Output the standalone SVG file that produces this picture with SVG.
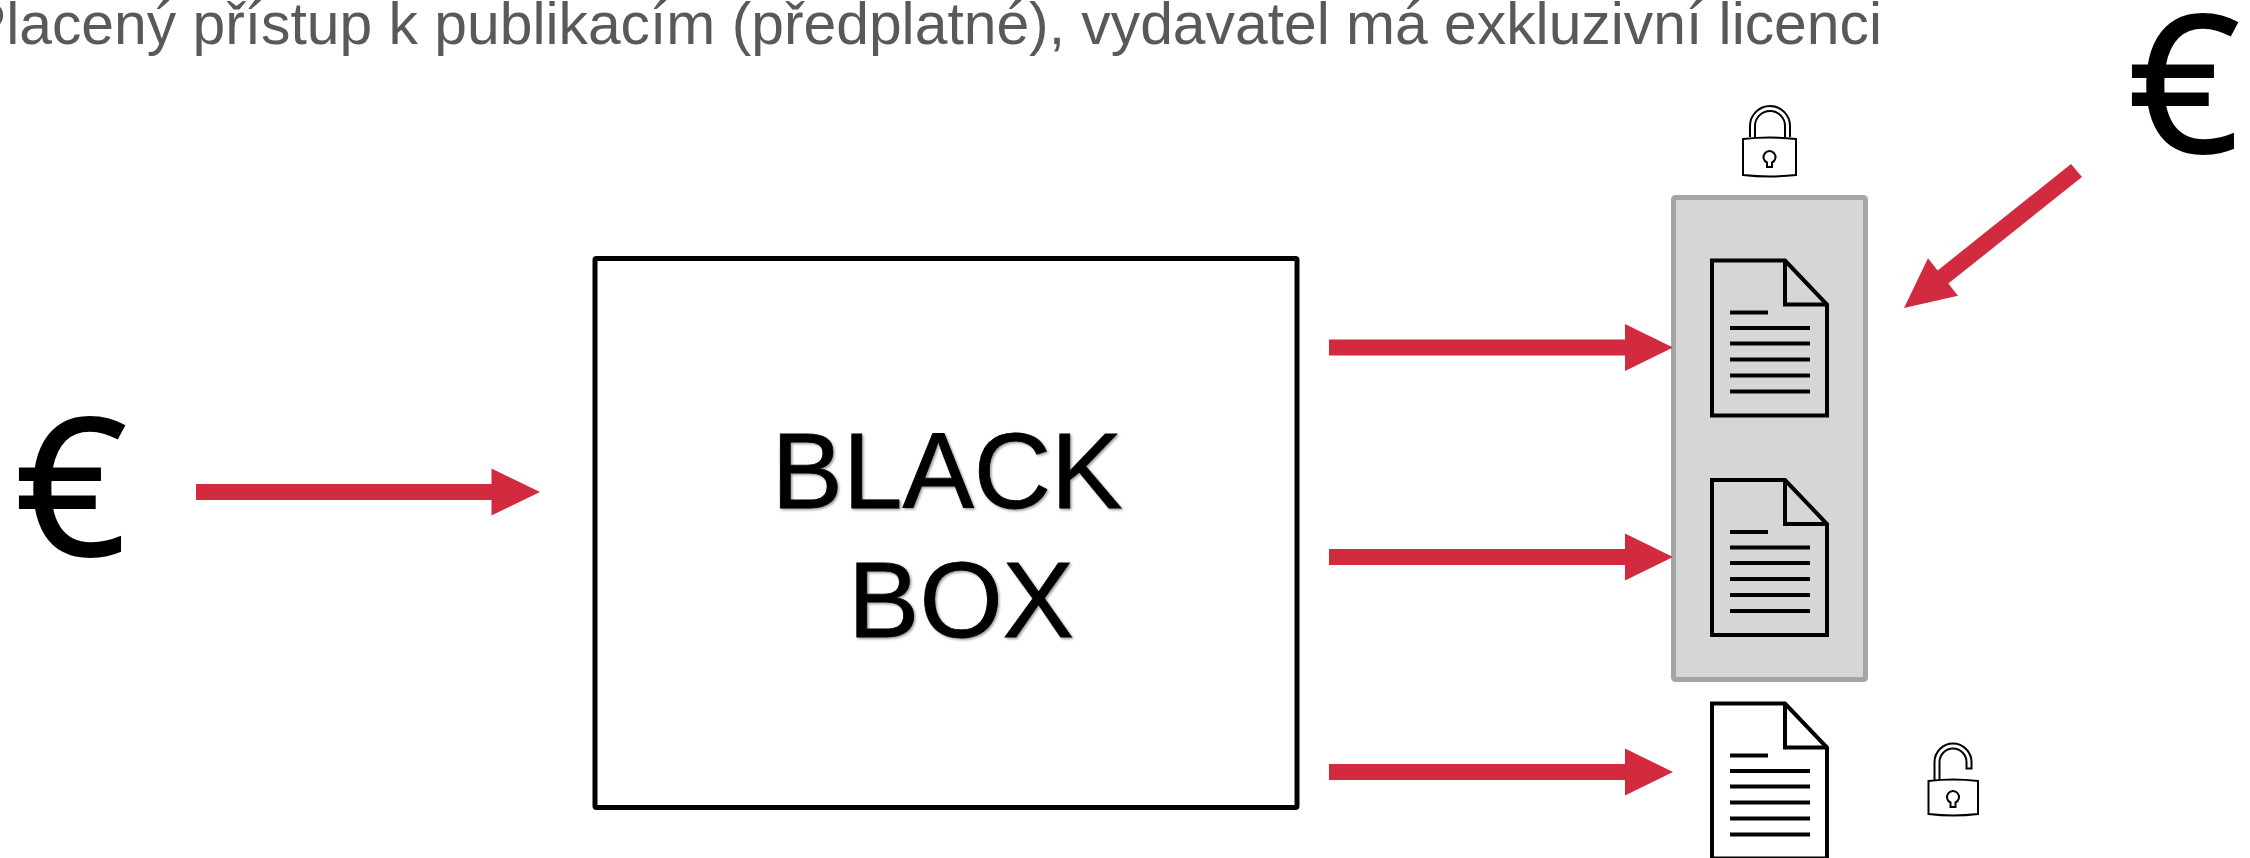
<svg xmlns="http://www.w3.org/2000/svg" width="2250" height="858" viewBox="0 0 2250 858">
<style>
.title{font-family:"Liberation Sans",Arial,sans-serif;font-size:58.800px;fill:#595959}
.euro{font-family:"Open Sans","Noto Sans",sans-serif;font-size:190px;fill:#000;stroke:#000;stroke-width:2}
.bb{font-family:"Liberation Sans",Arial,sans-serif;font-size:107px;fill:#000;stroke:#000;stroke-width:0.8;text-anchor:middle;filter:url(#sh)}
.arrow{fill:#d22a3e}
.page{fill:none;stroke:#000;stroke-width:4;stroke-linejoin:miter}
.ln{stroke:#000;stroke-width:4;fill:none}
.lock{fill:none;stroke:#000;stroke-width:2}
</style>
<defs>
<filter id="sh" x="-5%" y="-5%" width="110%" height="115%"><feDropShadow dx="1.500" dy="1.500" stdDeviation="1.200" flood-color="#000" flood-opacity="0.4"/></filter>
<g id="doc">
<path class="page" d="M1712 480H1785L1827 524V635H1712Z"/>
<path class="page" d="M1785 480V524H1827"/>
<path class="ln" d="M1730 532H1768M1730 547.500H1810M1730 563H1810M1730 579H1810M1730 595H1810M1730 611H1810"/>
</g>
</defs>
<rect width="2250" height="858" fill="#fff"/>
<g id="title"><text class="title" x="1882" y="44" text-anchor="end">Placený přístup k publikacím (předplatné), vydavatel má exkluzivní licenci</text></g>
<g id="euro-left"><text class="euro" transform="translate(15 555) scale(1.03 1)" x="0" y="0">€</text></g>
<g id="euro-right"><text class="euro" transform="translate(2128 152) scale(1.03 1)" x="0" y="0">€</text></g>
<g id="black-box">
<rect x="595" y="258.500" width="702" height="549" rx="1.500" fill="#fff" stroke="#000" stroke-width="5"/>
<text class="bb" x="947" y="508">BLACK</text>
<text class="bb" x="961" y="637">BOX</text>
</g>
<g id="repository">
<rect x="1673.500" y="197.500" width="192" height="482" rx="2" fill="#d6d6d6" stroke="#a5a5a5" stroke-width="5"/>
</g>
<g id="doc-1"><use href="#doc" y="-219.500"/></g>
<g id="doc-2"><use href="#doc"/></g>
<g id="doc-3"><use href="#doc" y="223.500"/></g>
<g id="lock-closed">
<path class="lock" d="M1743 139Q1769.500 136 1796 139V175Q1769.500 178 1743 175Z"/>
<path class="lock" d="M1750 137V126A20 20 0 0 1 1790 126V137M1755 137V126A15 15 0 0 1 1785 126V137"/>
<path class="lock" d="M1767 162.500A6 6 0 1 1 1772 162.500V167H1767Z"/>
</g>
<g id="lock-open">
<path class="lock" d="M1928.500 781Q1953 778 1978 781V814Q1953 817 1928.500 814Z"/>
<path class="lock" d="M1934.500 780V762A18.500 18.500 0 0 1 1971.500 762V768.500H1966.500V762A13.500 13.500 0 0 0 1939.500 762V780"/>
<path class="lock" d="M1950.500 802.500A6 6 0 1 1 1955.500 802.500V807H1950.500Z"/>
</g>
<g id="connectors">
<polygon class="arrow" points="196,484 491.500,484 491.500,468.500 540,492 491.500,515.500 491.500,500 196,500"/>
<polygon class="arrow" points="1329,339.500 1625,339.500 1625,324 1673,347.500 1625,371 1625,355.500 1329,355.500"/>
<polygon class="arrow" points="1329,549 1625,549 1625,533.500 1673,557 1625,580.500 1625,565 1329,565"/>
<polygon class="arrow" points="1329,764 1625,764 1625,748.500 1673,772 1625,795.500 1625,780 1329,780"/>
<polygon class="arrow" points="2071,164 2082,177 1948.300,283.600 1958,295.700 1904,308 1928,258.300 1937.700,270.400"/>
</g>
</svg>
